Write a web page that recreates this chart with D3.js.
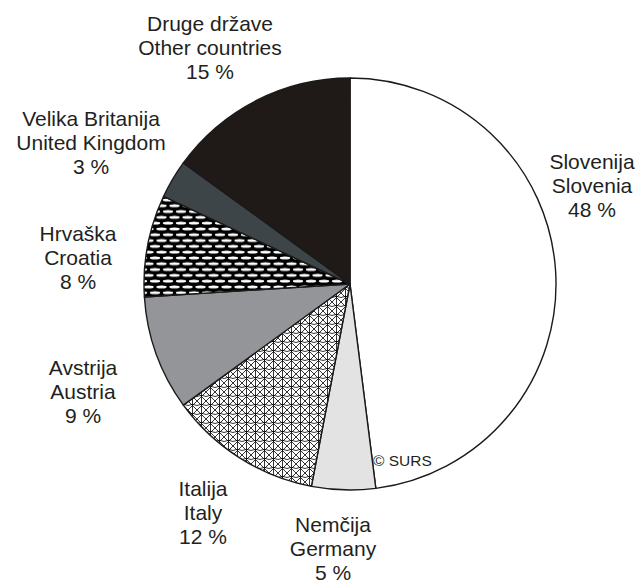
<!DOCTYPE html>
<html>
<head>
<meta charset="utf-8">
<script src="https://cdn.jsdelivr.net/npm/d3@7"></script>
<style>
  body { margin: 0; background: #fff; }
  text { font-family: "Liberation Sans", Arial, sans-serif; fill: #231f20; }
</style>
</head>
<body>
<div id="chart"></div>
<script>
// data
const namesSl = ["Slovenija", "Nemčija", "Italija", "Avstrija", "Hrvaška", "Velika Britanija", "Druge države"]
const namesEn = ["Slovenia", "Germany", "Italy", "Austria", "Croatia", "United Kingdom", "Other countries"]
const shares = [48, 5, 12, 9, 8, 3, 15]

const WIDTH = 640
const HEIGHT = 583
const CX = 350, CY = 284, R = 206

// label placement (x, baseline of middle line)
const labelPos = [[592, 193], [333, 556], [203, 520], [83, 399], [78, 265], [91, 150], [210, 55]]
const fills = ["#ffffff", "#e3e3e3", "url(#lattice)", "#939598", "url(#ovals)", "#3e4548", "#1f1a17"]

const svg = d3.select("#chart").append("svg")
    .attr("width", WIDTH)
    .attr("height", HEIGHT)

const defs = svg.append("defs")

// Italy: white with black star lattice
const lat = defs.append("pattern")
    .attr("id", "lattice")
    .attr("patternUnits", "userSpaceOnUse")
    .attr("width", 9).attr("height", 9)
lat.append("rect").attr("width", 9).attr("height", 9).attr("fill", "#fff")
lat.append("path")
    .attr("d", "M0,0 L9,9 M9,0 L0,9 M4.5,0 V9 M0,4.5 Q4.5,2 9,4.5")
    .attr("stroke", "#000").attr("stroke-width", 0.8).attr("fill", "none")

// Croatia: black with staggered white ovals
const ov = defs.append("pattern")
    .attr("id", "ovals")
    .attr("patternUnits", "userSpaceOnUse")
    .attr("width", 13).attr("height", 11.6)
ov.append("rect").attr("width", 13).attr("height", 11.6).attr("fill", "#000")
ov.append("ellipse").attr("cx", 6.5).attr("cy", 2.9).attr("rx", 5.2).attr("ry", 1.5).attr("fill", "#fff")
ov.append("ellipse").attr("cx", 0).attr("cy", 8.7).attr("rx", 5.2).attr("ry", 1.5).attr("fill", "#fff")
ov.append("ellipse").attr("cx", 13).attr("cy", 8.7).attr("rx", 5.2).attr("ry", 1.5).attr("fill", "#fff")

const data = shares.map((v, i) => ({ sl: namesSl[i], en: namesEn[i], value: v, i }))

const pie = d3.pie().value(d => d.value).sort(null)
const arc = d3.arc().innerRadius(0).outerRadius(R)

const g = svg.append("g").attr("transform", `translate(${CX},${CY})`)

g.selectAll("path")
    .data(pie(data))
    .enter().append("path")
    .attr("d", arc)
    .attr("fill", d => fills[d.data.i])
    .attr("stroke", "#1a1a1a")
    .attr("stroke-width", 1.4)
    .attr("stroke-linejoin", "round")

// labels
const labels = svg.selectAll("text.lbl")
    .data(data)
    .enter().append("text")
    .attr("class", "lbl")
    .attr("text-anchor", "middle")
    .attr("font-size", 21)
    .attr("transform", d => `translate(${labelPos[d.i][0]},${labelPos[d.i][1]})`)

labels.append("tspan").attr("x", 0).attr("y", -24).text(d => d.sl)
labels.append("tspan").attr("x", 0).attr("y", 0).text(d => d.en)
labels.append("tspan").attr("x", 0).attr("y", 24).text(d => d.value + " %")

svg.append("text")
    .attr("x", 373).attr("y", 466)
    .attr("font-size", 15.5)
    .text("© SURS")
</script>
</body>
</html>
